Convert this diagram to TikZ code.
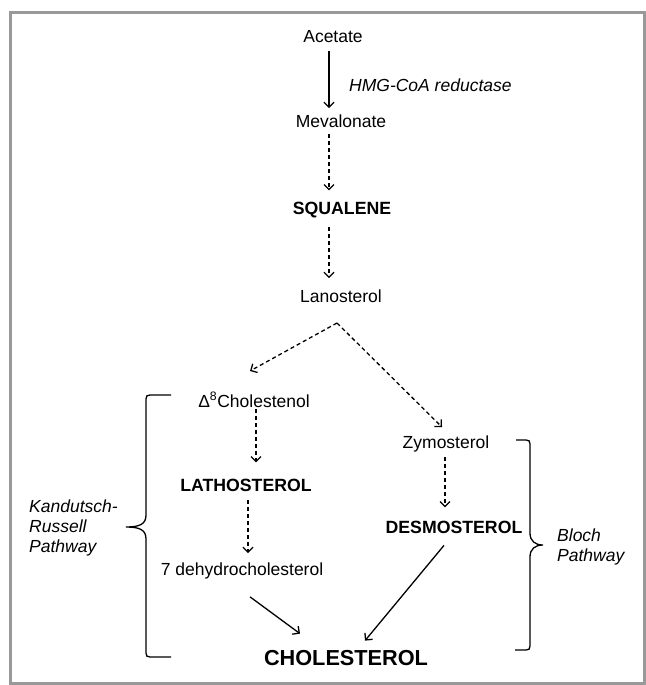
\documentclass[tikz,border=0pt]{standalone}
\usepackage{fontspec}
\setmainfont{Liberation Sans}
\usetikzlibrary{arrows.meta,calc}
\definecolor{framegray}{RGB}{153,153,153}
\begin{document}
\begin{tikzpicture}[x=1pt,y=-1pt,
  lbl/.style={inner sep=0pt, anchor=base, font=\fontsize{17.5}{20}\selectfont},
  blbl/.style={inner sep=0pt, anchor=base, font=\fontsize{17.7}{20}\selectfont\bfseries},
  ilbl/.style={inner sep=0pt, align=left, font=\fontsize{17.5}{20}\selectfont\itshape},
  arr/.style={line width=1.3pt, -{Straight Barb[length=5pt,width=10pt]}},
  darr/.style={arr, dash pattern=on 4pt off 3pt},
  bracestyle/.style={line width=1.3pt},
  framestyle/.style={draw=framegray, line width=3pt}]

\useasboundingbox (0,0) rectangle (645,685);
\draw[framestyle] (10,12.5) rectangle (644,683.5);

% nodes
\node[lbl] (acet) at (333,43) {Acetate};
\node[ilbl, anchor=base west] (hmg) at (349,92) {HMG-CoA reductase};
\node[lbl] (meval) at (341,127) {Mevalonate};
\node[blbl] (squa) at (342,214) {SQUALENE};
\node[lbl] (lano) at (341,302) {Lanosterol};
\coordinate (apex) at (337,323);
\node[lbl] (chol8) at (254,407) {Δ\textsuperscript{8}Cholestenol};
\node[lbl] (zymo) at (446,448) {Zymosterol};
\node[blbl] (latho) at (246,491) {LATHOSTEROL};
\node[blbl] (desmo) at (454,533) {DESMOSTEROL};
\node[lbl] (dehy) at (242,575) {7 dehydrocholesterol};
\node[inner sep=0pt, anchor=base, font=\fontsize{21.7}{24}\selectfont\bfseries] (chole) at (346,665) {CHOLESTEROL};
\node[ilbl, anchor=north west] (kr) at (29,500) {Kandutsch-\\Russell\\Pathway};
\node[ilbl, anchor=north west] (bloch) at (557,529) {Bloch\\Pathway};

% connectors
\coordinate (ax) at (329,0);
\draw[arr, shorten <=8pt, shorten >=6pt] (acet.south -| ax) -- (meval.north -| ax);
\draw[darr, shorten <=7pt, shorten >=11pt] (meval.south -| ax) -- (squa.north -| ax);
\draw[darr, shorten <=9.5pt, shorten >=11pt] (squa.south -| ax) -- (lano.north -| ax);
\draw[darr] (apex) -- ($(chol8.north)+(-4,-21)$);
\draw[darr] (apex) -- ($(zymo.north)+(-4,-8)$);
\draw[darr, shorten <=1.5pt, shorten >=16pt] ($(chol8.south)+(2,0)$) -- ($(latho.north -| chol8.south)+(2,0)$);
\draw[darr, shorten <=9pt, shorten >=9pt] ($(latho.south)+(2,0)$) -- ($(dehy.north -| latho.south)+(2,0)$);
\draw[arr] ($(dehy.south)+(8,18)$) -- ($(chole.north)+(-46,-16)$);
\draw[darr, shorten <=5.5pt, shorten >=13pt] ($(zymo.south)+(-1,0)$) -- ($(desmo.north -| zymo.south)+(-1,0)$);
\draw[arr] ($(desmo.south)+(-10,12)$) -- ($(chole.north)+(19,-9)$);

% braces
\draw[bracestyle] (171,395) -- (150,395) .. controls (147,395) and (146,396) .. (146,399)
  -- (146,515) .. controls (146,524) and (140,527) .. (126,527)
  .. controls (140,527) and (146,530) .. (146,539)
  -- (146,653) .. controls (146,656) and (147,657) .. (150,657) -- (171,657);
\draw[bracestyle] (516,440) -- (526,440) .. controls (529,440) and (530,441) .. (530,444)
  -- (530,533) .. controls (530,541) and (535,545) .. (543,545)
  .. controls (535,545) and (530,549) .. (530,557)
  -- (530,646) .. controls (530,649) and (529,650) .. (526,650) -- (515,650);
\end{tikzpicture}
\end{document}
